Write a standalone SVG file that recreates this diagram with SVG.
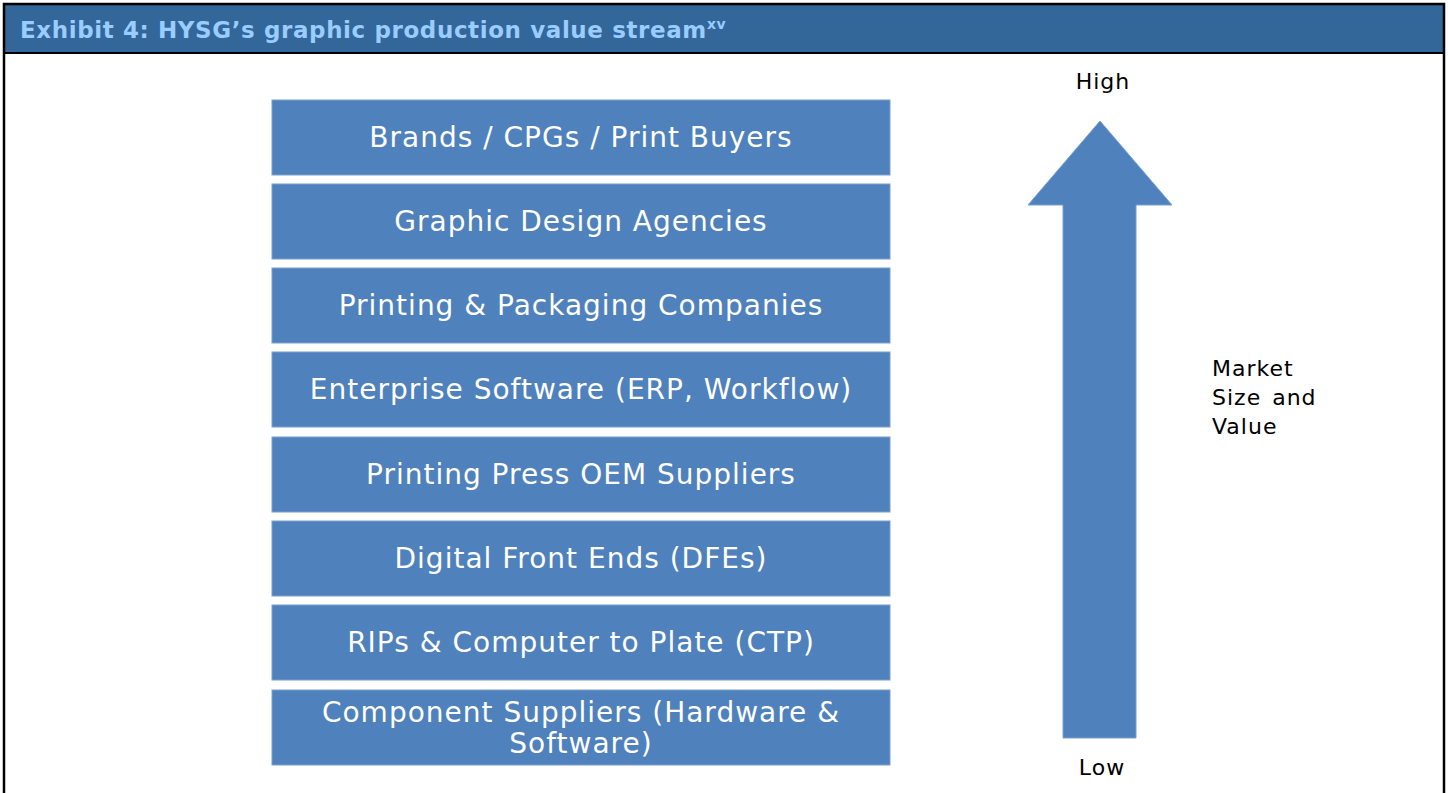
<svg xmlns="http://www.w3.org/2000/svg" width="1448" height="793" viewBox="0 0 1448 793">
<style>
.box{fill:#4F81BD;stroke:#7A9FCF;stroke-width:1}
.bt{fill:#FFFFFF;font-family:"DejaVu Sans",Verdana,sans-serif;font-size:28px;letter-spacing:1px;text-anchor:middle}
.lbl{fill:#000000;font-family:"DejaVu Sans",Verdana,sans-serif;font-size:22px;letter-spacing:1px}
</style>
<rect x="0" y="0" width="1448" height="793" fill="#FFFFFF"/>
<rect x="4" y="4" width="1440" height="49" fill="#336699"/>
<rect x="4" y="4" width="1440" height="800" fill="none" stroke="#000000" stroke-width="2.5"/>
<line x1="4" y1="53" x2="1444" y2="53" stroke="#000000" stroke-width="2"/>
<text x="20" y="38" font-family="'DejaVu Sans',Verdana,sans-serif" font-weight="bold" font-size="23" letter-spacing="0.6" fill="#99CCFF">Exhibit 4: HYSG’s graphic production value stream<tspan font-size="14" dy="-9">xv</tspan></text>
<g id="n1"><rect class="box" x="272" y="100" width="618" height="75"/><text class="bt" x="581" y="147">Brands / CPGs / Print Buyers</text></g>
<g id="n2"><rect class="box" x="272" y="184" width="618" height="75"/><text class="bt" x="581" y="231">Graphic Design Agencies</text></g>
<g id="n3"><rect class="box" x="272" y="268" width="618" height="75"/><text class="bt" x="581" y="315">Printing &amp; Packaging Companies</text></g>
<g id="n4"><rect class="box" x="272" y="352" width="618" height="75"/><text class="bt" x="581" y="399">Enterprise Software (ERP, Workflow)</text></g>
<g id="n5"><rect class="box" x="272" y="437" width="618" height="75"/><text class="bt" x="581" y="484">Printing Press OEM Suppliers</text></g>
<g id="n6"><rect class="box" x="272" y="521" width="618" height="75"/><text class="bt" x="581" y="568">Digital Front Ends (DFEs)</text></g>
<g id="n7"><rect class="box" x="272" y="605" width="618" height="75"/><text class="bt" x="581" y="652">RIPs &amp; Computer to Plate (CTP)</text></g>
<g id="n8"><rect class="box" x="272" y="690" width="618" height="75"/><text class="bt" x="581" y="722">Component Suppliers (Hardware &amp;</text><text class="bt" x="581" y="753">Software)</text></g>
<g id="arrow"><polygon points="1100,121 1172,205 1136,205 1136,738 1063,738 1063,205 1028,205" fill="#4F81BD" stroke="#7A9FCF" stroke-width="1"/></g>
<g id="labels">
<text class="lbl" x="1103" y="89" text-anchor="middle">High</text>
<text class="lbl" x="1102" y="775" text-anchor="middle">Low</text>
<text class="lbl" x="1212" y="376">Market</text>
<text class="lbl" x="1212" y="405">Size <tspan dx="3">and</tspan></text>
<text class="lbl" x="1212" y="434">Value</text>
</g>
</svg>
